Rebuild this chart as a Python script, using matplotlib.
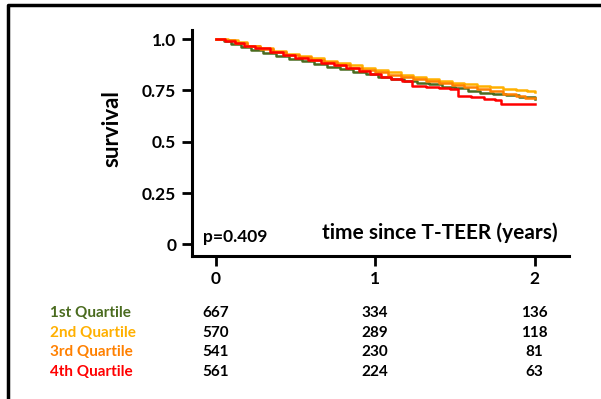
import matplotlib
matplotlib.use("Agg")
import matplotlib.pyplot as plt
from matplotlib.lines import Line2D
from matplotlib.transforms import blended_transform_factory

plt.rcParams['font.family'] = ['Lato', 'DejaVu Sans']

# Kaplan-Meier step points per quartile (years, survival)
t_q1 = [0, 0.05, 0.1, 0.16, 0.22, 0.3, 0.38, 0.46, 0.54, 0.62, 0.7, 0.78, 0.86, 0.94,
        1.02, 1.1, 1.18, 1.26, 1.34, 1.42, 1.5, 1.58, 1.66, 1.74, 1.82, 1.9, 2.0]
s_q1 = [1.0, 0.99, 0.975, 0.96, 0.948, 0.932, 0.918, 0.905, 0.893, 0.88, 0.866, 0.853, 0.842, 0.83,
        0.818, 0.808, 0.798, 0.789, 0.78, 0.769, 0.76, 0.748, 0.74, 0.733, 0.726, 0.718, 0.709]

t_q2 = [0, 0.08, 0.14, 0.2, 0.28, 0.36, 0.44, 0.52, 0.6, 0.68, 0.76, 0.84, 0.92, 1.0,
        1.08, 1.16, 1.24, 1.32, 1.4, 1.48, 1.56, 1.64, 1.72, 1.8, 1.88, 1.95, 2.0]
s_q2 = [1.0, 0.995, 0.985, 0.968, 0.955, 0.942, 0.93, 0.918, 0.907, 0.895, 0.884, 0.873, 0.862, 0.85,
        0.838, 0.827, 0.818, 0.808, 0.798, 0.789, 0.78, 0.772, 0.765, 0.758, 0.752, 0.746, 0.745]

t_q3 = [0, 0.06, 0.12, 0.2, 0.28, 0.36, 0.44, 0.52, 0.6, 0.68, 0.76, 0.84, 0.92, 1.0,
        1.08, 1.16, 1.24, 1.32, 1.4, 1.48, 1.56, 1.64, 1.72, 1.8, 1.88, 1.94, 2.0]
s_q3 = [1.0, 0.995, 0.98, 0.965, 0.952, 0.938, 0.925, 0.912, 0.9, 0.887, 0.874, 0.862, 0.85, 0.838,
        0.826, 0.815, 0.805, 0.796, 0.787, 0.778, 0.768, 0.757, 0.746, 0.735, 0.722, 0.715, 0.712]

t_q4 = [0, 0.06, 0.12, 0.18, 0.25, 0.34, 0.42, 0.5, 0.58, 0.66, 0.74, 0.82, 0.9, 0.97,
        1.04, 1.1, 1.17, 1.23, 1.32, 1.4, 1.47, 1.52, 1.6, 1.68, 1.75, 1.79, 2.0]
s_q4 = [1.0, 0.99, 0.98, 0.965, 0.955, 0.94, 0.925, 0.91, 0.898, 0.885, 0.872, 0.86, 0.847, 0.832,
        0.818, 0.805, 0.795, 0.771, 0.766, 0.762, 0.755, 0.722, 0.717, 0.709, 0.703, 0.683, 0.683]

group_names = ['1st Quartile', '2nd Quartile', '3rd Quartile', '4th Quartile']
group_colors = ['#4a6b1f', '#ffb000', '#ff8000', '#ff0000']

# numbers at risk at 0, 1, 2 years
risk_times = [0, 1, 2]
at_risk = [[667, 334, 136],
           [570, 289, 118],
           [541, 230, 81],
           [561, 224, 63]]

y_ticks = [0, 0.25, 0.5, 0.75, 1.0]
y_ticklabels = ['0', '0.25', '0.5', '0.75', '1.0']

W, H = 601, 399
fig = plt.figure(figsize=(W / 100, H / 100), dpi=100)
ax = fig.add_axes([191.6 / W, 1 - 256 / H, (569 - 191.6) / W, (256 - 30) / H])

curves = [(t_q1, s_q1), (t_q2, s_q2), (t_q3, s_q3), (t_q4, s_q4)]
for (t, s), c in zip(curves, group_colors):
    ax.plot(t, s, drawstyle='steps-post', color=c, lw=1.8)

ax.set_xlim(-0.15, 2.215)
ax.set_ylim(-0.057, 1.045)
ax.set_xticks(risk_times)
ax.set_xticklabels([str(v) for v in risk_times])
ax.set_yticks(y_ticks)
ax.set_yticklabels(y_ticklabels)
for side in ['top', 'right']:
    ax.spines[side].set_visible(False)
for side in ['left', 'bottom']:
    ax.spines[side].set_linewidth(2.2)
ax.tick_params(width=2, length=7, labelsize=12.5, pad=4)
for lab in ax.get_xticklabels() + ax.get_yticklabels():
    lab.set_fontweight('bold')

ax.set_ylabel('survival', fontsize=16, fontweight='bold')
ax.yaxis.set_label_coords(-0.182, 0.562)
ax.text(0.97, 0.105, 'time since T-TEER (years)', transform=ax.transAxes,
        ha='right', va='center', fontsize=15, fontweight='bold')
ax.text(0.03, 0.085, 'p=0.409', transform=ax.transAxes,
        ha='left', va='center', fontsize=12.5, fontweight='bold')

# numbers-at-risk table under the axis
tr = blended_transform_factory(ax.transData, fig.transFigure)
row_y = [313, 333, 352, 372]
for name, c, counts, y in zip(group_names, group_colors, at_risk, row_y):
    fig.text(50 / W, 1 - y / H, name, color=c, fontsize=11, fontweight='bold',
             ha='left', va='center')
    for xv, n in zip(risk_times, counts):
        ax.text(xv, 1 - y / H, str(n), transform=tr, fontsize=11, fontweight='bold',
                ha='center', va='center', clip_on=False)

# frame around the panel
fig.add_artist(Line2D([8 / W, 8 / W, 1.0], [0.0, 1 - 5 / H, 1 - 5 / H],
                      transform=fig.transFigure, color='black', lw=2.5))

fig.savefig('out.png', dpi=100)
